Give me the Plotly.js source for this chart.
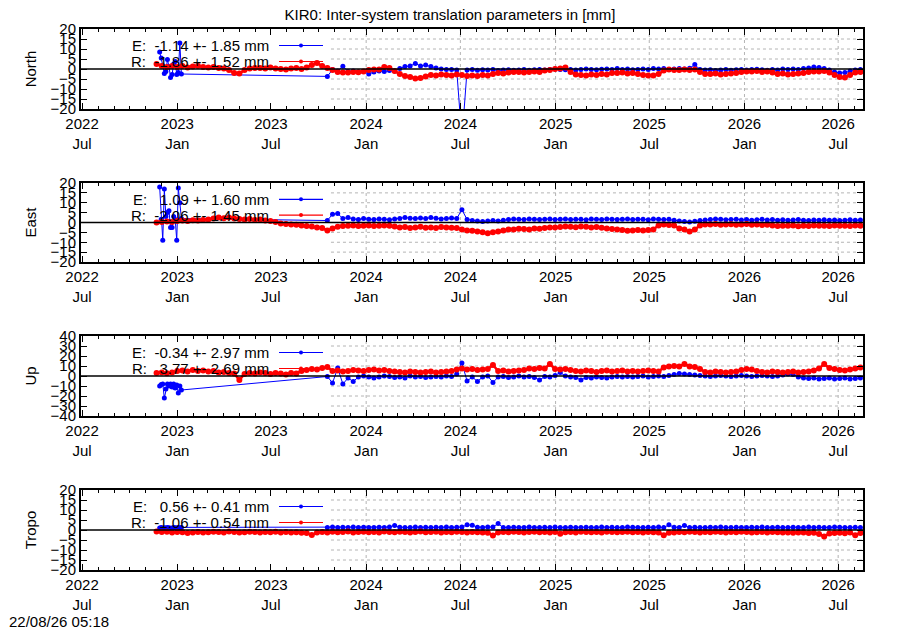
<!DOCTYPE html>
<html><head><meta charset="utf-8">
<script src="https://cdn.plot.ly/plotly-3.0.1.min.js"></script>
<style>html,body{margin:0;padding:0;background:#fff}#chart{width:900px;height:630px}</style>
</head><body><div id="chart"></div>
<script>
// ---------------- data ----------------
const chartTitle = 'KIR0: Inter-system translation parameters in [mm]';
const stampText = '22/08/26 05:18';
const panelNames = ['North', 'East', 'Up', 'Tropo'];
const yLimits = [20, 20, 40, 20];
const yDticks = [5, 5, 10, 5];

// red (R) samples: every 10 days starting at redStart
const redStart = '2022-11-22';
const stepDays = 10;
// blue (E) main samples start at red sample index 33 (2023-10-18)
const blueMainOffset = 33;
const blueEarlyDates = ['2022-11-28','2022-12-01','2022-12-04','2022-12-07','2022-12-10','2022-12-13','2022-12-16',
  '2022-12-19','2022-12-22','2022-12-25','2022-12-28','2022-12-31','2023-01-03','2023-01-06','2023-01-09'];

const tickDates = ['2022-07-01','2023-01-01','2023-07-01','2024-01-01','2024-07-01','2025-01-01','2025-07-01','2026-01-01','2026-07-01'];
const tickLabels = ['2022<br>Jul','2023<br>Jan','2023<br>Jul','2024<br>Jan','2024<br>Jul','2025<br>Jan','2025<br>Jul','2026<br>Jan','2026<br>Jul'];

const legendE = ['E:  -1.14 +- 1.85 mm', 'E:   1.09 +- 1.60 mm', 'E:  -0.34 +- 2.97 mm', 'E:   0.56 +- 0.41 mm'];
const legendR = ['R:  -1.86 +- 1.52 mm', 'R:  -2.06 +- 1.45 mm', 'R:   3.77 +- 2.69 mm', 'R:  -1.06 +- 0.54 mm'];

// North
const northRed = [
  2.5, 1.5, 1.0, 1.5, 1.0, 1.5, 0.8, 1.2, 1.5, 1.0,
  0.8, 1.0, 0.5, 0.3, -0.5, -2.0, -2.3, -0.5, 0.3, 0.5,
  0.5, 0.2, 0.8, 0.3, 0.0, -0.3, 0.2, 0.5, 0.0, 0.8,
  2.0, 3.0, 1.5, 0.5, -0.5, -1.5, -1.8, -1.7, -1.5, -1.6,
  -1.2, -0.5, -0.3, -0.2, 1.0, 0.5, -1.0, -2.5, -3.5, -4.0,
  -4.8, -4.5, -3.8, -3.0, -3.2, -2.8, -3.0, -3.2, -2.8, -3.0,
  -3.5, -3.2, -3.5, -3.0, -3.2, -2.5, -2.0, -2.2, -1.8, -1.5,
  -1.5, -1.8, -1.5, -1.2, -1.5, -0.8, -0.5, 0.0, 0.3, 0.8,
  -1.5, -2.8, -3.0, -3.2, -2.8, -3.0, -2.5, -2.8, -2.0, -2.0,
  -1.8, -2.2, -2.0, -2.5, -3.0, -3.2, -3.2, -2.5, -0.8, -0.3,
  -0.5, -0.5, -0.3, -0.5, -0.3, -1.5, -2.5, -2.5, -2.3, -2.8,
  -2.5, -2.2, -2.0, -1.5, -1.2, -1.3, -1.0, -1.5, -1.3, -1.8,
  -2.5, -2.3, -2.7, -2.5, -2.3, -2.0, -1.5, -1.2, -1.3, -1.0,
  -1.8, -3.0, -4.0, -4.2, -3.0, -1.8, -1.5];
const northBlueEarly = [8.5, 5.5, 1.8, -2.3, -1.2, 4.7, 1.3, -4.2, -2.8, 2.5, 3.8, -2.8, -1.7, 13.0, -2.5];
const northBlueMain = [
  -3.7, -0.3, -1.0, 1.4, -1.2, -1.0, -1.5, -1.2, -2.5, -1.5,
  -1.0, -1.2, -0.8, -1.0, 0.3, 1.2, 1.5, 2.8, 1.5, 2.0,
  1.2, 0.5, 0.0, -0.3, -0.2, -0.5, -35, -0.5, -0.3, -0.6,
  -0.4, -0.5, -0.3, -0.7, -0.5, -0.4, -0.6, -0.5, -0.3, -0.6,
  -0.4, -0.2, -0.5, -0.3, 0.0, -0.2, -0.4, -0.3, -0.5, -0.2,
  0.0, -0.3, -0.4, -0.1, 0.0, -0.3, 0.2, -0.2, 0.0, -0.4,
  -0.2, 0.0, -0.3, 0.3, 0.0, 0.2, -0.2, 0.0, 0.3, 0.0,
  0.4, 2.2, -0.3, -0.5, -0.4, -0.7, -0.5, -0.3, -0.6, -0.4,
  -0.2, -0.5, -0.3, -0.1, -0.4, -0.6, -0.3, -0.5,
  0.0, -0.2, 0.0, -0.3, 0.2, 0.5, 1.0, 0.8, 0.3, -0.5, -1.5, -2.0, -1.8, -1.0, -0.5, -0.3];

// East
const eastRed = [
  0.0, 0.3, 0.5, 0.3, 0.8, 1.0, 0.8, 1.2, 1.0, 1.3,
  1.5, 2.0, 2.5, 2.2, 2.5, 2.0, 1.8, 1.5, 1.8, 1.3,
  1.5, 1.0, 0.8, 0.3, -0.5, -0.8, -1.0, -1.2, -1.5, -1.8,
  -2.0, -2.5, -2.8, -4.0, -3.0, -2.2, -1.8, -1.7, -1.5, -1.8,
  -1.6, -1.5, -1.8, -1.6, -1.5, -1.7, -2.0, -2.5, -2.3, -2.8,
  -2.5, -2.2, -2.6, -2.5, -2.8, -2.3, -2.5, -2.7, -2.8, -3.5,
  -4.0, -4.2, -4.5, -5.0, -5.5, -5.0, -4.5, -4.0, -3.5, -3.5,
  -3.2, -3.3, -3.5, -3.0, -3.2, -2.8, -2.5, -2.5, -2.3, -2.0,
  -2.2, -2.4, -2.0, -2.2, -2.5, -2.3, -2.6, -3.0, -3.3, -3.5,
  -3.8, -4.2, -4.0, -3.8, -4.0, -3.8, -3.5, -1.5, -1.0, -1.3,
  -1.5, -3.0, -3.5, -4.5, -3.5, -1.5, -1.0, -1.0, -0.8, -1.2,
  -1.0, -0.9, -1.1, -1.0, -0.8, -1.2, -1.0, -1.3, -1.2, -1.5,
  -1.8, -1.6, -1.7, -1.5, -1.9, -1.6, -1.8, -1.5, -1.7, -1.6,
  -1.8, -1.5, -1.7, -1.6, -1.8, -1.5, -1.6];
const eastBlueEarly = [18.0, 1.7, -9.0, 17.0, 3.0, 5.0, 6.0, -2.5, -2.5, 3.0, 1.5, -9.0, 17.5, 10.0, 2.0];
const eastBlueMain = [
  1.0, 4.2, 4.5, 2.0, 2.5, 1.8, 1.5, 2.0, 1.7, 1.5,
  1.8, 1.6, 1.4, 1.8, 2.0, 2.5, 2.2, 2.0, 2.3, 2.0,
  2.5, 2.2, 1.8, 2.0, 2.3, 2.0, 6.5, 1.5, 1.0, 0.8,
  0.5, 0.8, 1.0, 0.8, 1.2, 1.5, 1.8, 1.6, 1.5, 1.8,
  1.6, 1.5, 1.7, 1.8, 1.5, 1.6, 1.8, 1.5, 1.7, 1.6,
  1.4, 1.8, 1.6, 1.5, 1.8, 1.7, 1.5, 1.6, 1.8, 1.5,
  1.7, 1.6, 1.4, 1.8, 1.7, 1.5, 1.6, 1.2, 0.8, 0.5,
  0.3, 0.6, 1.0, 1.3, 1.5, 1.8, 1.6, 1.4, 1.5, 1.7,
  1.3, 1.5, 1.2, 1.4, 1.6, 1.3, 1.5, 1.2, 1.4, 1.1,
  1.3, 1.5, 1.2, 1.0, 1.3, 1.2, 1.4, 1.1, 1.3, 1.0,
  1.2, 1.4, 1.1, 1.3];

// Up
const upRed = [
  3.0, 3.5, 2.8, 3.5, 5.0, 5.5, 4.5, 6.0, 5.0, 5.5,
  4.5, 5.0, 3.5, 4.0, 3.0, 2.5, -4.0, 2.0, 3.0, 2.5,
  3.5, 3.0, 2.0, 3.0, 2.5, 1.5, 3.0, 2.5, 5.0, 6.0,
  7.0, 6.5, 8.0, 9.0, 5.0, 5.5, 4.5, 5.0, 6.0, 5.5,
  5.0, 6.0, 6.5, 5.5, 6.0, 5.0, 4.5, 4.0, 3.5, 4.5,
  4.0, 3.5, 4.0, 4.5, 3.5, 4.0, 4.5, 5.0, 6.5, 7.5,
  6.5, 7.0, 6.0, 6.5, 7.0, 11.0, 5.0, 5.5, 4.5, 5.0,
  5.5, 6.0, 7.5, 7.0, 8.0, 7.5, 12.0, 7.0, 6.5, 7.0,
  6.0, 5.0, 4.5, 5.5, 5.0, 4.0, 5.0, 5.5, 4.5, 5.0,
  5.5, 4.5, 5.0, 4.5, 5.0, 5.5, 5.0, 4.5, 8.5, 9.5,
  10.0, 9.5, 12.0, 9.5, 9.0, 7.0, 4.0, 3.5, 4.5, 4.0,
  3.5, 4.0, 4.5, 6.0, 7.0, 6.5, 5.0, 4.0, 3.5, 4.5,
  4.0, 3.5, 4.0, 4.5, 3.5, 4.0, 4.5, 5.5, 7.5, 12.0,
  8.0, 7.0, 6.0, 5.5, 6.5, 7.5, 8.5];
const upBlueEarly = [-10.0, -8.5, -8.0, -22.0, -13.0, -8.0, -10.0, -8.0, -11.0, -8.0, -12.0, -9.0, -17.0, -10.0, -14.0];
const upBlueMain = [
  -0.5, -7.0, 8.0, -8.0, -2.0, -5.5, -1.0, 0.0, -1.0, -2.0,
  -1.0, 0.0, -0.5, -1.5, -1.0, -2.0, 0.0, -1.0, -0.5, -1.5,
  -1.0, -0.5, -1.0, 0.0, -0.5, 2.0, 13.0, -5.0, -1.0, -5.5,
  -1.0, 0.0, -6.5, -1.0, -0.5, -1.5, -1.0, 0.0, -1.0, -0.5,
  -1.5, -4.0, -0.5, -1.0, 0.5, 3.5, 0.0, -1.0, -1.5, -4.0,
  -1.5, -2.0, -1.0, -1.5, -2.0, -1.0, -0.5, -1.0, -0.5, -1.0,
  -0.5, 0.0, -1.0, -0.5, 0.0, -0.5, 0.5, 1.5, 2.5, 2.0,
  1.5, 1.0, 0.5, 0.0, -0.5, 0.0, 0.5, 0.0, -0.5, 0.0,
  0.5, 0.0, -0.5, 0.0, 0.5, 0.0, -0.5, 0.0, 1.0, 2.0,
  1.5, -1.0, -2.0, -2.5, -2.0, -3.0, -2.5, -2.0, -3.0, -2.5,
  -2.0, -3.0, -2.5, -2.0];

// Tropo
const tropoRed = [
  -0.8, -1.0, -0.9, -1.2, -1.0, -1.1, -1.5, -1.3, -1.0, -1.2,
  -1.1, -0.9, -1.0, -1.2, -0.8, -1.0, -1.3, -1.1, -0.9, -1.0,
  -1.2, -1.0, -1.1, -0.9, -1.3, -1.0, -1.2, -1.1, -1.4, -1.5,
  -2.5, -1.3, -1.0, -1.2, -0.9, -1.1, -1.0, -0.8, -1.2, -1.0,
  -0.9, -1.1, -1.0, -1.2, -0.8, -1.0, -1.1, -0.9, -1.0, -1.2,
  -1.0, -0.8, -1.1, -1.0, -0.9, -1.2, -1.0, -1.1, -0.9, -1.0,
  -1.2, -1.0, -1.1, -1.3, -1.4, -2.8, -1.2, -1.0, -1.1, -0.9,
  -1.0, -1.2, -1.0, -0.9, -1.1, -1.0, -1.2, -1.0, -1.9, -1.1,
  -1.0, -1.2, -0.9, -1.0, -1.1, -1.0, -1.2, -0.9, -1.0, -1.1,
  -1.0, -0.9, -1.1, -1.0, -1.2, -1.0, -1.1, -1.3, -2.6, -1.4,
  -1.2, -1.0, -1.1, -0.9, -1.0, -1.2, -1.0, -1.1, -0.9, -1.0,
  -1.2, -1.0, -1.1, -0.9, -1.0, -1.2, -1.1, -1.0, -1.2, -1.0,
  -1.1, -1.3, -1.2, -1.4, -1.2, -1.3, -1.5, -1.4, -2.0, -3.2,
  -1.8, -1.5, -1.4, -1.6, -1.3, -2.6, -1.5];
const tropoBlueEarly = [1.0, 1.2, 0.9, 1.1, 1.0, 1.3, 1.1, 0.9, 1.0, 1.2, 1.1, 1.0, 1.2, 1.1, 1.3];
const tropoBlueMain = [
  1.3, 1.5, 1.2, 1.4, 1.3, 1.5, 1.2, 1.4, 1.3, 1.2,
  1.4, 1.3, 1.5, 2.3, 1.4, 1.3, 1.2, 1.5, 1.3, 1.4,
  1.2, 1.4, 1.3, 1.5, 1.3, 1.4, 1.5, 2.6, 2.4, 1.4,
  1.3, 1.5, 1.5, 3.2, 1.2, 1.3, 1.4, 1.2, 1.3, 1.5,
  1.3, 1.2, 1.4, 1.3, 1.5, 1.2, 1.3, 1.4, 1.2, 1.3,
  1.4, 1.3, 1.2, 1.5, 1.3, 1.4, 1.2, 1.3, 1.5, 1.4,
  1.3, 1.2, 1.4, 1.3, 1.5, 1.2, 2.6, 1.4, 1.3, 2.2,
  1.3, 1.4, 1.3, 1.2, 1.4, 1.3, 1.5, 1.2, 1.3, 1.4,
  1.3, 1.2, 1.4, 1.3, 1.5, 1.2, 1.3, 1.4, 1.2, 1.3,
  1.4, 1.3, 1.2, 1.5, 1.3, 1.4, 1.2, 1.3, 1.5, 1.4,
  1.3, 1.2, 1.4, 1.3];

const redSeries = [northRed, eastRed, upRed, tropoRed];
const blueEarlySeries = [northBlueEarly, eastBlueEarly, upBlueEarly, tropoBlueEarly];
const blueMainSeries = [northBlueMain, eastBlueMain, upBlueMain, tropoBlueMain];

// ---------------- styling / layout ----------------
const FONT = 'Liberation Sans, Arial, sans-serif';
const FS = 15;
const BLUE = '#0000ff', RED = '#ff0000';
const W = 900, H = 630, ML = 81, MR = 37, MT = 29, MB = 60;
const panelPx = [[29, 109], [183, 262], [336, 416], [490, 570]]; // top,bottom in px
const xRange = ['2022-06-29', '2026-08-18'];
const gridStart = '2023-10-25';
const GRID = '#b4b4b4';

function sampleDates(start, n) {
  const d0 = Date.parse(start + 'T00:00:00Z');
  const out = [];
  for (let i = 0; i < n; i++) out.push(new Date(d0 + i * stepDays * 86400000).toISOString().slice(0, 10));
  return out;
}
const nb = s => s.replace(/ /g, '\u00a0');

const plotH = H - MT - MB, plotW = W - ML - MR;
const traces = [], shapes = [], annotations = [];
const layout = {
  width: W, height: H, margin: {l: ML, r: MR, t: MT, b: MB},
  paper_bgcolor: '#fff', plot_bgcolor: '#fff', showlegend: false,
  font: {family: FONT, size: FS, color: '#000'},
  title: {text: chartTitle, x: 0.5, xanchor: 'center', y: 1 - 15 / H, yanchor: 'middle', yref: 'container',
          font: {family: FONT, size: FS, color: '#000'}},
};

panelNames.forEach((name, p) => {
  const s = p === 0 ? '' : String(p + 1);
  const xa = 'x' + s, ya = 'y' + s;
  const red = redSeries[p];
  const redX = sampleDates(redStart, red.length);
  const blueMain = blueMainSeries[p];
  const blueX = blueEarlyDates.concat(redX.slice(blueMainOffset, blueMainOffset + blueMain.length));
  const blueY = blueEarlySeries[p].concat(blueMain);

  traces.push({x: blueX, y: blueY, xaxis: xa, yaxis: ya, type: 'scatter', mode: 'lines+markers',
    line: {color: BLUE, width: 1}, marker: {color: BLUE, size: 5}, name: 'E'});
  traces.push({x: redX, y: red, xaxis: xa, yaxis: ya, type: 'scatter', mode: 'lines+markers',
    line: {color: RED, width: 2.5}, marker: {color: RED, size: 6}, name: 'R'});

  const [top, bot] = panelPx[p];
  const dom = [(H - MB - bot) / plotH, (H - MB - top) / plotH];
  const L = yLimits[p], dt = yDticks[p];

  layout['xaxis' + s] = {
    type: 'date', range: xRange, anchor: ya, domain: [0, 1],
    tickmode: 'array', tickvals: tickDates, ticktext: tickLabels,
    ticks: 'inside', ticklen: 6, tickwidth: 1, tickcolor: '#000',
    showline: true, linewidth: 2, linecolor: '#000', mirror: 'ticks',
    showgrid: false, zeroline: false,
    minor: {tickmode: 'linear', tick0: '2022-07-01', dtick: 'M1', ticks: 'inside', ticklen: 3, tickwidth: 1, tickcolor: '#000', showgrid: false},
    tickfont: {family: FONT, size: FS, color: '#000'}, fixedrange: true
  };
  layout['yaxis' + s] = {
    range: [-L, L], domain: dom, anchor: xa, tickmode: 'linear', tick0: 0, dtick: dt,
    ticks: 'inside', ticklen: 6, tickwidth: 1, tickcolor: '#000',
    showline: true, linewidth: 2, linecolor: '#000', mirror: 'ticks',
    showgrid: false, zeroline: false,
    tickfont: {family: FONT, size: FS, color: '#000'},
    title: {text: name, font: {family: FONT, size: FS, color: '#000'}, standoff: 10}, fixedrange: true
  };

  // dotted grid (only right portion, as in reference)
  for (let v = -L + dt; v < L; v += dt) {
    if (v === 0) continue;
    shapes.push({type: 'line', xref: xa, yref: ya, x0: gridStart, x1: xRange[1], y0: v, y1: v, layer: 'below',
      line: {color: GRID, width: 1, dash: 'dot'}});
  }
  tickDates.filter(d => d > gridStart).forEach(d => {
    shapes.push({type: 'line', xref: xa, yref: ya + ' domain', x0: d, x1: d, y0: 0, y1: 1, layer: 'below',
      line: {color: GRID, width: 1, dash: 'dot'}});
  });
  // zero line
  shapes.push({type: 'line', xref: 'paper', yref: ya, x0: 0, x1: 1, y0: 0, y1: 0, layer: 'above',
    line: {color: '#000', width: 1.3}});

  // key (text then sample)
  const keyY = [1 - 16.5 / 80, 1 - 32.5 / 80];
  const keyText = [legendE[p], legendR[p]];
  const keyCol = [BLUE, RED];
  const tx = (271 - ML) / plotW, lx0 = (279 - ML) / plotW, lx1 = (323 - ML) / plotW, lxm = (301 - ML) / plotW;
  for (let k = 0; k < 2; k++) {
    annotations.push({text: nb(keyText[k]), xref: 'paper', yref: ya + ' domain', x: tx, y: keyY[k],
      xanchor: 'right', yanchor: 'middle', showarrow: false, font: {family: FONT, size: FS, color: '#000'}});
    shapes.push({type: 'line', xref: 'paper', yref: ya + ' domain', x0: lx0, x1: lx1, y0: keyY[k], y1: keyY[k],
      line: {color: keyCol[k], width: 1.2}});
    shapes.push({type: 'circle', xref: 'paper', yref: ya + ' domain', xsizemode: 'pixel', ysizemode: 'pixel',
      xanchor: lxm, yanchor: keyY[k], x0: -2, x1: 2, y0: -2, y1: 2, fillcolor: keyCol[k], line: {width: 0}});
  }
});

annotations.push({text: stampText, xref: 'paper', yref: 'paper', x: (7 - ML) / plotW, y: -(622 - (H - MB)) / plotH,
  xanchor: 'left', yanchor: 'middle', showarrow: false, font: {family: FONT, size: FS, color: '#000'}});

layout.shapes = shapes;
layout.annotations = annotations;
Plotly.newPlot('chart', traces, layout, {staticPlot: true, displayModeBar: false});
</script>
</body></html>
